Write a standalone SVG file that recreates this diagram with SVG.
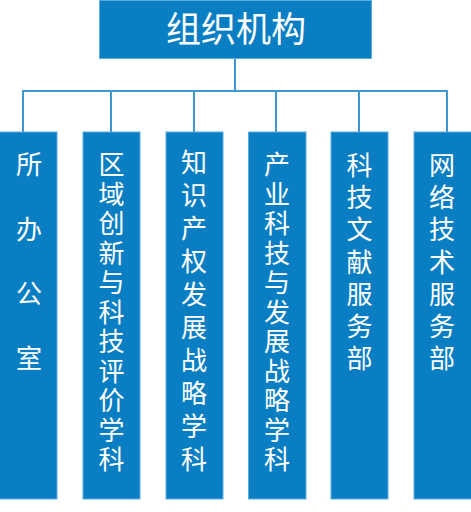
<svg xmlns="http://www.w3.org/2000/svg" width="471" height="512" viewBox="0 0 471 512">
<style>
.box{fill:#0a7ec3;stroke:#5aaee0;stroke-width:1}
.t{fill:#ffffff;font-family:"Noto Sans CJK SC","Noto Sans",sans-serif;text-anchor:middle}
.col{font-size:26px}
.title{font-size:35px}
.ln{stroke:#3f97d0;stroke-width:2;fill:none}
</style>
<rect width="471" height="512" fill="#ffffff"/>
<g id="connectors">
<path class="ln" d="M235,58 V91 M23,91 H447 M23,90 V132 M111,90 V132 M194,90 V132 M276,90 V132 M359,90 V132 M447,90 V132"/>
</g>
<g id="root">
<rect class="box" x="99.5" y="0.5" width="272" height="58"/>
<text class="t title" x="236" y="42">组织机构</text>
</g>
<g id="n1">
<rect class="box" x="-1" y="132" width="58" height="367"/>
<text class="t col"><tspan x="29" y="174">所</tspan><tspan x="29" y="238.7">办</tspan><tspan x="29" y="303.4">公</tspan><tspan x="29" y="368">室</tspan></text>
</g>
<g id="n2">
<rect class="box" x="83" y="132" width="57" height="367"/>
<text class="t col"><tspan x="111.5" y="174">区</tspan><tspan x="111.5" y="203.5">域</tspan><tspan x="111.5" y="233">创</tspan><tspan x="111.5" y="262.5">新</tspan><tspan x="111.5" y="292">与</tspan><tspan x="111.5" y="321.5">科</tspan><tspan x="111.5" y="351">技</tspan><tspan x="111.5" y="380.5">评</tspan><tspan x="111.5" y="410">价</tspan><tspan x="111.5" y="439.5">学</tspan><tspan x="111.5" y="469">科</tspan></text>
</g>
<g id="n3">
<rect class="box" x="166" y="132" width="57" height="367"/>
<text class="t col"><tspan x="194" y="172">知</tspan><tspan x="194" y="205">识</tspan><tspan x="194" y="238">产</tspan><tspan x="194" y="271">权</tspan><tspan x="194" y="304">发</tspan><tspan x="194" y="337">展</tspan><tspan x="194" y="370">战</tspan><tspan x="194" y="403">略</tspan><tspan x="194" y="436">学</tspan><tspan x="194" y="469">科</tspan></text>
</g>
<g id="n4">
<rect class="box" x="248.5" y="132" width="57.5" height="367"/>
<text class="t col"><tspan x="277" y="174">产</tspan><tspan x="277" y="203.5">业</tspan><tspan x="277" y="233">科</tspan><tspan x="277" y="262.5">技</tspan><tspan x="277" y="292">与</tspan><tspan x="277" y="321.5">发</tspan><tspan x="277" y="351">展</tspan><tspan x="277" y="380.5">战</tspan><tspan x="277" y="410">略</tspan><tspan x="277" y="439.5">学</tspan><tspan x="277" y="469">科</tspan></text>
</g>
<g id="n5">
<rect class="box" x="331" y="132" width="57" height="367"/>
<text class="t col"><tspan x="359.5" y="175">科</tspan><tspan x="359.5" y="207.2">技</tspan><tspan x="359.5" y="239.3">文</tspan><tspan x="359.5" y="271.5">献</tspan><tspan x="359.5" y="303.7">服</tspan><tspan x="359.5" y="335.8">务</tspan><tspan x="359.5" y="368">部</tspan></text>
</g>
<g id="n6">
<rect class="box" x="414" y="132" width="58" height="367"/>
<text class="t col"><tspan x="442" y="175">网</tspan><tspan x="442" y="207.2">络</tspan><tspan x="442" y="239.3">技</tspan><tspan x="442" y="271.5">术</tspan><tspan x="442" y="303.7">服</tspan><tspan x="442" y="335.8">务</tspan><tspan x="442" y="368">部</tspan></text>
</g>
</svg>
